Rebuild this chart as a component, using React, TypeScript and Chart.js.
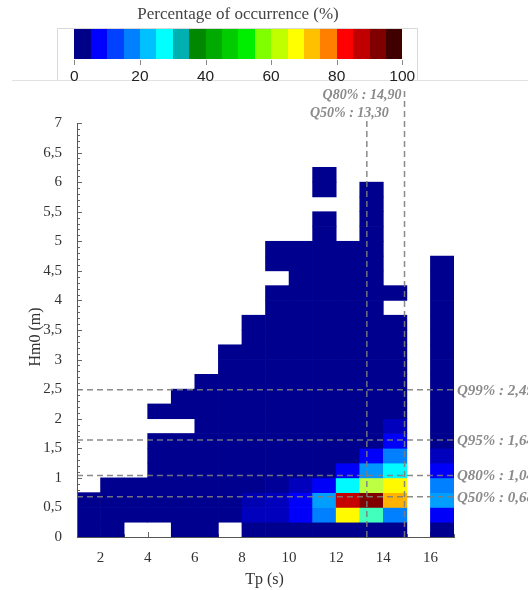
import React, { useEffect, useRef } from 'react';
import { Chart, registerables } from 'chart.js';

Chart.register(...registerables);

// Peak period bins (lower edge, s); every bin is 1 s wide
const tpBins = [1, 2, 3, 4, 5, 6, 7, 8, 9, 10, 11, 12, 13, 14, 15, 16];
const tpBinWidth = 1;
// Significant wave height bin size (m)
const hm0BinHeight = 0.25;

// Percentage of occurrence for each Tp bin, listed from Hm0 = 0 upward (null = no record)
const occurrence: (number | null)[][] = [
  [1.5, 1.5, 1.5],
  [1.5, 1.5, 1.5, 1.5],
  [null, 1.5, 1.5, 1.5],
  [null, 1.5, 1.5, 1.5, 1.5, 1.5, 1.5, null, 1.5],
  [1.5, 1.5, 1.5, 1.5, 1.5, 1.5, 1.5, null, 1.5, 1.5],
  [1.5, 1.5, 1.5, 1.5, 1.5, 1.5, 1.5, 1.5, 1.5, 1.5, 1.5],
  [null, 1.5, 1.5, 1.5, 1.5, 1.5, 1.5, 1.5, 1.5, 1.5, 1.5, 1.5, 1.5],
  [1.5, 6, 5, 1.5, 1.5, 1.5, 1.5, 1.5, 1.5, 1.5, 1.5, 1.5, 1.5, 1.5, 1.5],
  [1.5, 6, 6, 2.5, 1.5, 1.5, 1.5, 1.5, 1.5, 1.5, 1.5, 1.5, 1.5, 1.5, 1.5, 1.5, 1.5, null, 1.5, 1.5],
  [1.5, 12, 12, 6, 1.5, 1.5, 1.5, 1.5, 1.5, 1.5, 1.5, 1.5, 1.5, 1.5, 1.5, 1.5, 1.5, 1.5, 1.5, 1.5],
  [1.5, 25, 28, 12, 1.5, 1.5, 1.5, 1.5, 1.5, 1.5, 1.5, 1.5, 1.5, 1.5, 1.5, 1.5, 1.5, 1.5, 1.5, 1.5, 1.5, 1.5, null, 1.5, 1.5],
  [1.5, 63, 93, 37, 12, 1.5, 1.5, 1.5, 1.5, 1.5, 1.5, 1.5, 1.5, 1.5, 1.5, 1.5, 1.5, 1.5, 1.5, 1.5],
  [1.5, 44, 100, 56, 27, 12, 1.5, 1.5, 1.5, 1.5, 1.5, 1.5, 1.5, 1.5, 1.5, 1.5, 1.5, 1.5, 1.5, 1.5, 1.5, 1.5, 1.5, 1.5],
  [1.5, 25, 70, 63, 37, 25, 12, 6, 1.5, 1.5, 1.5, 1.5, 1.5, 1.5, 1.5, null, 1.5],
  [],
  [1.5, 12, 28, 25, 12, 6, 1.5, 1.5, 1.5, 1.5, 1.5, 1.5, 1.5, 1.5, 1.5, 1.5, 1.5, 1.5, 1.5],
];

const xTicks = [2, 4, 6, 8, 10, 12, 14, 16];
const yTicks = [0, 0.5, 1, 1.5, 2, 2.5, 3, 3.5, 4, 4.5, 5, 5.5, 6, 6.5, 7];

const hm0QuantileNames = ['Q99%', 'Q95%', 'Q80%', 'Q50%'];
const hm0QuantileValues = [2.49, 1.64, 1.04, 0.68];
const tpQuantileNames = ['Q80%', 'Q50%'];
const tpQuantileValues = [14.9, 13.3];

// Colour bar legend (0–100 %, 5 % per swatch)
const colorbarColors = [
  '#000088', '#0000ff', '#0040ff', '#0080ff', '#00c0ff', '#00ffff', '#00b0b0',
  '#008800', '#00aa00', '#00cc00', '#00ee00', '#80ff00', '#c0ff00', '#ffff00',
  '#ffc000', '#ff8000', '#ff0000', '#c00000', '#800000', '#400000',
];
const colorbarTicks = [0, 20, 40, 60, 80, 100];

const comma = (v: number, digits?: number) =>
  (digits === undefined ? String(v) : v.toFixed(digits)).replace('.', ',');

// Jet colour map, t in [0, 1]
function jet(t: number): string {
  const c = (x: number) => Math.max(0, Math.min(1, x));
  const r = c(1.5 - Math.abs(4 * t - 3));
  const g = c(1.5 - Math.abs(4 * t - 2));
  const b = c(1.5 - Math.abs(4 * t - 1));
  return `rgb(${Math.round(r * 255)},${Math.round(g * 255)},${Math.round(b * 255)})`;
}

type Cell = { x: number; y: [number, number]; v: number };
const cells: Cell[] = [];
occurrence.forEach((col, i) => {
  col.forEach((v, j) => {
    if (v === null) return;
    cells.push({
      x: tpBins[i] + tpBinWidth / 2,
      y: [j * hm0BinHeight, (j + 1) * hm0BinHeight],
      v,
    });
  });
});

const SERIF = '"Liberation Serif", "Times New Roman", serif';
const SANS = '"Liberation Sans", Arial, sans-serif';

const decorPlugin = {
  id: 'decor',
  beforeDatasetsDraw(chart: any) {
    const { ctx, chartArea, scales } = chart;
    const xs = scales.x;
    const ys = scales.y;
    ctx.save();
    ctx.strokeStyle = '#666';
    ctx.lineWidth = 1;
    ctx.beginPath();
    for (let i = 0; i <= 70; i++) {
      const y = Math.round(ys.getPixelForValue(i / 10)) + 0.5;
      const len = i % 5 === 0 ? 5 : 3;
      ctx.moveTo(chartArea.left, y);
      ctx.lineTo(chartArea.left + len, y);
    }
    for (let v = 1; v <= 17; v++) {
      const x = Math.round(xs.getPixelForValue(v)) + 0.5;
      const len = v % 2 === 0 ? 5 : 3;
      ctx.moveTo(x, chartArea.bottom);
      ctx.lineTo(x, chartArea.bottom - len);
    }
    ctx.stroke();
    ctx.restore();
  },
  afterDatasetsDraw(chart: any) {
    const { ctx, chartArea, scales } = chart;
    const xs = scales.x;
    const ys = scales.y;
    ctx.save();
    ctx.strokeStyle = 'rgba(125,125,125,0.9)';
    ctx.lineWidth = 1.5;
    ctx.setLineDash([6, 4]);
    ctx.fillStyle = '#8a8a8a';

    ctx.font = `italic bold 15px ${SERIF}`;
    hm0QuantileValues.forEach((v, i) => {
      const y = ys.getPixelForValue(v);
      ctx.beginPath();
      ctx.moveTo(chartArea.left, y);
      ctx.lineTo(chartArea.right, y);
      ctx.stroke();
      ctx.textAlign = 'left';
      ctx.textBaseline = 'middle';
      ctx.fillText(`${hm0QuantileNames[i]} : ${comma(v, 2)}`, chartArea.right + 3, y + 1);
    });

    ctx.font = `italic bold 14px ${SERIF}`;
    const lineTops = [91, 121];
    const labelY = [95, 113];
    const labelDx = [-3, 22];
    tpQuantileValues.forEach((v, i) => {
      const x = xs.getPixelForValue(v);
      ctx.beginPath();
      ctx.moveTo(x, chartArea.bottom);
      ctx.lineTo(x, lineTops[i]);
      ctx.stroke();
      ctx.textAlign = 'right';
      ctx.textBaseline = 'middle';
      ctx.fillText(`${tpQuantileNames[i]} : ${comma(v, 2)}`, x + labelDx[i], labelY[i]);
    });
    ctx.restore();
  },
  afterDraw(chart: any) {
    const { ctx, chartArea } = chart;
    ctx.save();

    // axis titles
    ctx.fillStyle = '#333';
    ctx.font = `16px ${SERIF}`;
    ctx.textAlign = 'center';
    ctx.textBaseline = 'middle';
    ctx.fillText('Tp (s)', (chartArea.left + chartArea.right) / 2 - 1, 580);
    ctx.save();
    ctx.translate(36, 337);
    ctx.rotate(-Math.PI / 2);
    ctx.fillText('Hm0 (m)', 0, 0);
    ctx.restore();

    // colour bar frame
    ctx.strokeStyle = '#e2e2e2';
    ctx.lineWidth = 1;
    ctx.beginPath();
    ctx.moveTo(12, 80.5);
    ctx.lineTo(528, 80.5);
    ctx.stroke();
    ctx.fillStyle = '#fff';
    ctx.fillRect(57, 28, 361, 52);
    ctx.strokeStyle = '#d8d8d8';
    ctx.beginPath();
    ctx.moveTo(57.5, 80);
    ctx.lineTo(57.5, 28.5);
    ctx.lineTo(417.5, 28.5);
    ctx.lineTo(417.5, 80);
    ctx.stroke();

    // colour bar swatches
    const x0 = 74.3;
    const w = 328;
    const cbX = (v: number) => x0 + (v / 100) * w;
    const step = 100 / colorbarColors.length;
    colorbarColors.forEach((c, i) => {
      const a = Math.round(cbX(i * step));
      const b = Math.round(cbX((i + 1) * step));
      ctx.fillStyle = c;
      ctx.fillRect(a, 29, b - a, 30);
    });

    // colour bar ticks and labels
    ctx.strokeStyle = '#888';
    ctx.beginPath();
    colorbarTicks.forEach((t) => {
      const x = Math.round(cbX(t)) + 0.5;
      ctx.moveTo(x, 60);
      ctx.lineTo(x, 65);
    });
    ctx.stroke();
    ctx.fillStyle = '#222';
    ctx.font = `15.5px ${SANS}`;
    ctx.textAlign = 'center';
    ctx.textBaseline = 'middle';
    colorbarTicks.forEach((t) => ctx.fillText(String(t), cbX(t), 77));

    ctx.fillStyle = '#444';
    ctx.font = `17px ${SERIF}`;
    ctx.fillText('Percentage of occurrence (%)', 238, 15);
    ctx.restore();
  },
};

export default function App() {
  const ref = useRef<HTMLCanvasElement>(null);

  useEffect(() => {
    document.body.style.margin = '0';
    const canvas = ref.current;
    if (!canvas) return;
    const chart = new Chart(canvas, {
      type: 'bar',
      data: {
        datasets: [
          {
            data: cells.map((c) => ({ x: c.x, y: c.y })) as any,
            backgroundColor: cells.map((c) => jet(c.v / 100)),
            borderWidth: 0,
            barPercentage: 1,
            categoryPercentage: 1,
            grouped: false,
          },
        ],
      },
      options: {
        animation: false,
        responsive: false,
        devicePixelRatio: 1,
        layout: { padding: { left: 0, top: 123, right: 74, bottom: 0 } },
        plugins: {
          legend: { display: false },
          tooltip: { enabled: false },
          title: { display: false },
        },
        scales: {
          x: {
            type: 'linear',
            min: 1,
            max: 17,
            offset: false,
            grid: { display: false, offset: false },
            border: { display: true, color: '#555', width: 1, z: 1 },
            afterBuildTicks: (s: any) => {
              s.ticks = xTicks.map((v) => ({ value: v }));
            },
            afterFit: (s: any) => {
              s.height = 53;
            },
            ticks: {
              font: { family: SERIF, size: 15 },
              color: '#333',
              padding: 4,
              maxRotation: 0,
              autoSkip: false,
              callback: (v: any) => comma(Number(v)),
            },
          },
          y: {
            type: 'linear',
            min: 0,
            max: 7,
            grid: { display: false },
            border: { display: true, color: '#555', width: 1, z: 1 },
            afterBuildTicks: (s: any) => {
              s.ticks = yTicks.map((v) => ({ value: v }));
            },
            afterFit: (s: any) => {
              s.width = 77;
            },
            ticks: {
              font: { family: SERIF, size: 15 },
              color: '#333',
              padding: 7,
              autoSkip: false,
              callback: (v: any) => comma(Number(v)),
            },
          },
        },
      } as any,
      plugins: [decorPlugin],
    });
    return () => chart.destroy();
  }, []);

  return (
    <div style={{ width: 528, height: 590 }}>
      <canvas ref={ref} width={528} height={590} style={{ display: 'block' }} />
    </div>
  );
}
